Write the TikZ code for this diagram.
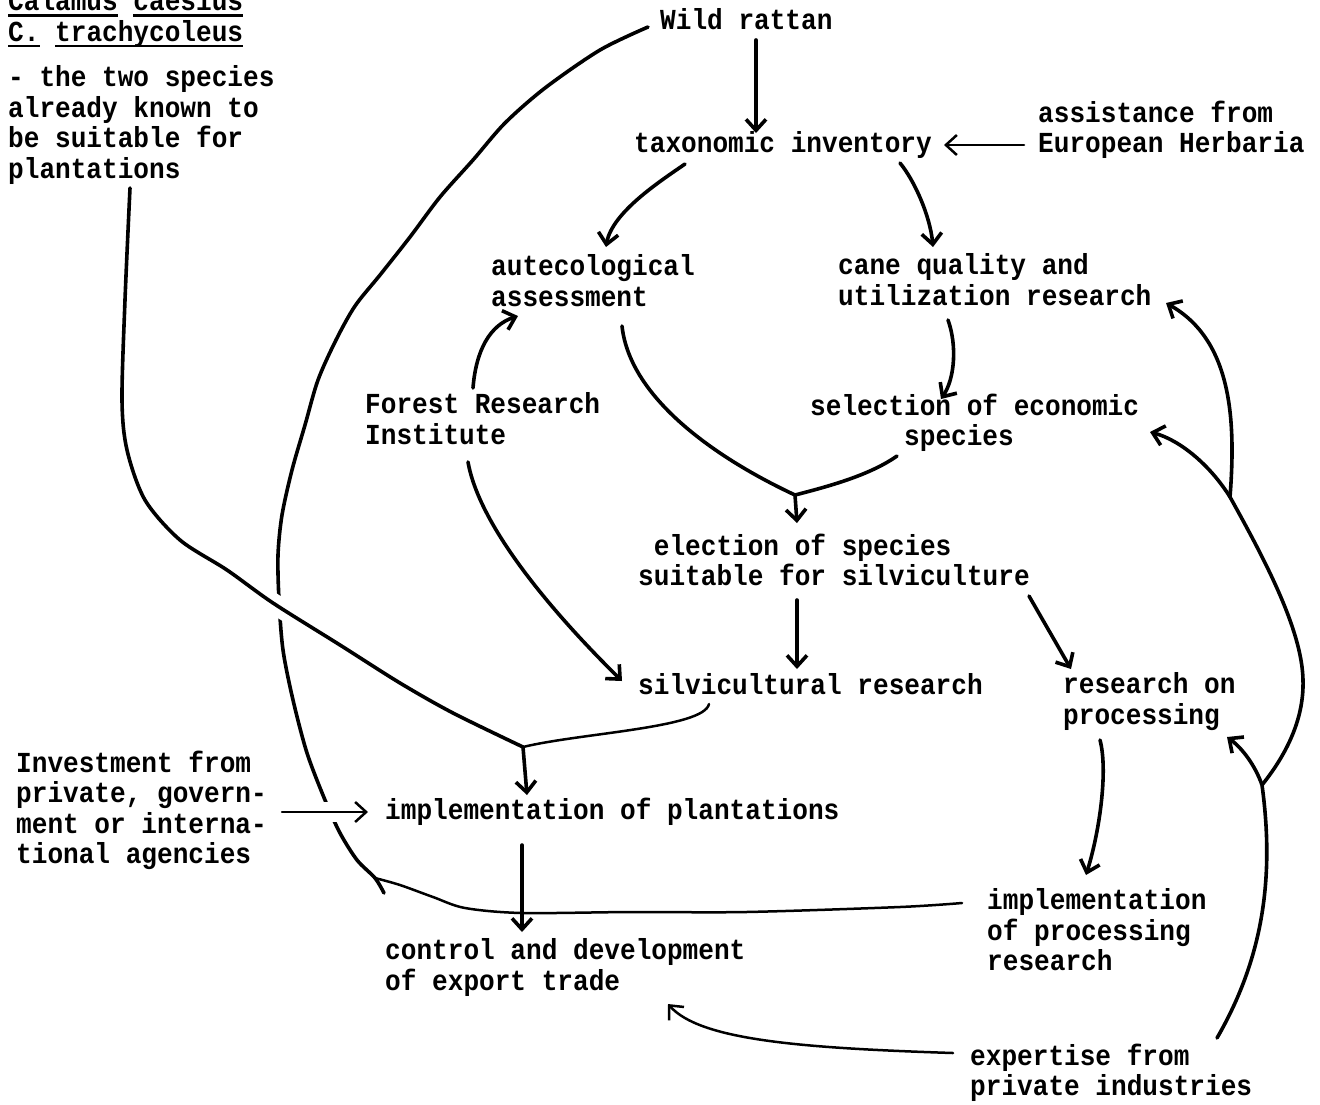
\documentclass[tikz,border=0pt]{standalone}
\usepackage{fontspec}
\newfontfamily\twfont{Liberation Mono}[FakeStretch=0.9]
\usetikzlibrary{arrows.meta}
\newsavebox\tulbox
\newcommand{\tul}[1]{\sbox\tulbox{#1}\rlap{\rule[-6pt]{\wd\tulbox}{2.6pt}}\usebox\tulbox}
\begin{document}
\begin{tikzpicture}[x=1pt,y=-1pt,
  txt/.style={anchor=north west, inner sep=0pt, align=left,
    font=\twfont\bfseries\fontsize{29pt}{30.5pt}\selectfont,
    execute at begin node=\strut},
  wire/.style={line width=3.6pt, line cap=round, line join=round},
  thinwire/.style={line width=2.5pt, line cap=round, line join=round},
  arr/.style={-{Straight Barb[length=11pt,width=20pt]}},
  bridge/.style={preaction={-, draw=white, line width=20pt, line cap=butt}}
]
\useasboundingbox (0,0) rectangle (1320,1104);
\fill[white] (0,0) rectangle (1320,1104);

% ---------- text blocks ----------
\node[txt] (sp) at (8,-10.35) {\tul{Calamus} \tul{caesius}\\\tul{C.} \tul{trachycoleus}\\[15pt]- the two species\\already known to\\be suitable for\\plantations};
\node[txt] (wild) at (660,7.65) {Wild rattan};
\node[txt] (tax) at (634,130.65) {taxonomic inventory};
\node[txt] (herb) at (1038,100.65) {assistance from\\European Herbaria};
\node[txt] (aut) at (491,254.65) {autecological\\assessment};
\node[txt] (cane) at (838,253.65) {cane quality and\\utilization research};
\node[txt] (fri) at (365,392.65) {Forest Research\\Institute};
\node[txt] (sel) at (810,393.65) {selection of economic\\\hphantom{xxxxxx}species};
\node[txt] (ele) at (638,533.65) {\hphantom{S}election of species\\suitable for silviculture};
\node[txt] (silv) at (638,672.65) {silvicultural research};
\node[txt] (rop) at (1063,672.65) {research on\\processing};
\node[txt] (inv) at (16,750.65) {Investment from\\private, govern-\\ment or interna-\\tional agencies};
\node[txt] (imp) at (385,797.65) {implementation of plantations};
\node[txt] (ipr) at (987,888.65) {implementation\\of processing\\research};
\node[txt] (ctl) at (385,938.65) {control and development\\of export trade};
\node[txt] (exp) at (970,1043.65) {expertise from\\private industries};

% ---------- junctions ----------
\coordinate (J1) at (795,495);
\coordinate (J2) at (523,747);
\coordinate (J3) at (375,878);
\coordinate (tail) at (384,893);
\coordinate (J4) at (1262,785);
\coordinate (J5) at (1230,497);

% ---------- long line from Wild rattan down the left ----------
\draw[wire] plot[smooth, tension=0.5] coordinates {([shift={(-12,19.35)}]wild.north west) (600,50) (545,88) (505,123) (473,160) (440,197) (410,237) (380,275) (355,306) (336,340) (318,380) (305,425) (292,470) (282,515) (278,555) (279,600) (283,650) (293,700) (307,753) (325,800) (340,833) (357,860) (J3) (tail)};

% ---------- species list to plantations (crosses over the long line) ----------
\draw[wire, bridge] plot[smooth, tension=0.5] coordinates {([shift={(122,198.35)}]sp.north west) (125,300) (122,400) (127,450) (145,500) (180,540) (227,570) (273,603) (340,645) (400,683) (453,713) (J2)};

% ---------- upper part ----------
\draw[wire, arr] ([shift={(96,32.35)}]wild.north west) -- ([shift={(122,2.35)}]tax.north west);
\draw[thinwire, arr] ([shift={(-14,44.35)}]herb.north west) -- ([shift={(310,14.35)}]tax.north west);
\draw[wire, arr] ([shift={(51,33.35)}]tax.north west) .. controls (662,180) and (612,212) .. ([shift={(115,-7.65)}]aut.north west);
\draw[wire, arr] ([shift={(266,32.35)}]tax.north west) .. controls (914,180) and (930,215) .. ([shift={(95,-6.65)}]cane.north west);
\draw[wire, arr] ([shift={(108,-4.65)}]fri.north west) .. controls (476,350) and (490,325) .. ([shift={(27,61.35)}]aut.north west);
\draw[wire, arr] ([shift={(110,66.35)}]cane.north west) .. controls (957,345) and (955,378) .. ([shift={(131,5.35)}]sel.north west);
\draw[wire] ([shift={(131,71.35)}]aut.north west) .. controls (630,400) and (720,460) .. (J1);
\draw[wire] ([shift={(87,62.35)}]sel.north west) .. controls (870,475) and (830,486) .. (J1);
\draw[wire, arr] (J1) -- ([shift={(159,-10.65)}]ele.north west);

% ---------- middle ----------
\draw[wire, arr] ([shift={(159,66.35)}]ele.north west) -- ([shift={(159,-3.65)}]silv.north west);
\draw[wire, arr] ([shift={(391,62.35)}]ele.north west) -- ([shift={(8,-3.65)}]rop.north west);
\draw[wire, arr] ([shift={(103,69.35)}]fri.north west) .. controls (480,530) and (560,620) .. ([shift={(-16,8.35)}]silv.north west);
\draw[thinwire] ([shift={(71,31.35)}]silv.north west) .. controls (704,728) and (580,733) .. (J2);
\draw[wire, arr] (J2) -- ([shift={(142,-2.65)}]imp.north west);

% ---------- lower part ----------
\draw[thinwire, arr, preaction={-, draw=white, line width=20pt, line cap=butt}] ([shift={(266,61.35)}]inv.north west) -- ([shift={(-17,14.35)}]imp.north west);
\draw[wire, arr] ([shift={(137,47.35)}]imp.north west) -- ([shift={(137,-6.65)}]ctl.north west);
\draw[thinwire] plot[smooth, tension=0.5] coordinates {([shift={(-25,14.35)}]ipr.north west) (900,907) (746,912) (631,912) (522,913) (465,908) (433,897) (400,885) (J3)};
\draw[thinwire, arr] ([shift={(-17,9.35)}]exp.north west) .. controls (800,1048) and (700,1040) .. ([shift={(283,65.35)}]ctl.north west);
\draw[wire, arr] ([shift={(37,67.35)}]rop.north west) .. controls (1108,770) and (1100,830) .. ([shift={(99,-13.65)}]ipr.north west);

% ---------- big right-hand line from expertise ----------
\draw[wire, arr] ([shift={(247,-5.65)}]exp.north west) .. controls (1262,960) and (1275,880) .. (J4) .. controls (1255,765) and (1242,748) .. ([shift={(164,64.35)}]rop.north west);
\draw[wire] (J4) .. controls (1290,750) and (1304,715) .. (1303,680) .. controls (1302,630) and (1265,560) .. (J5);
\draw[wire, arr] (J5) .. controls (1236,420) and (1232,340) .. ([shift={(328,49.35)}]cane.north west);
\draw[wire, arr] (J5) .. controls (1210,465) and (1180,440) .. ([shift={(340,38.35)}]sel.north west);
\end{tikzpicture}
\end{document}
